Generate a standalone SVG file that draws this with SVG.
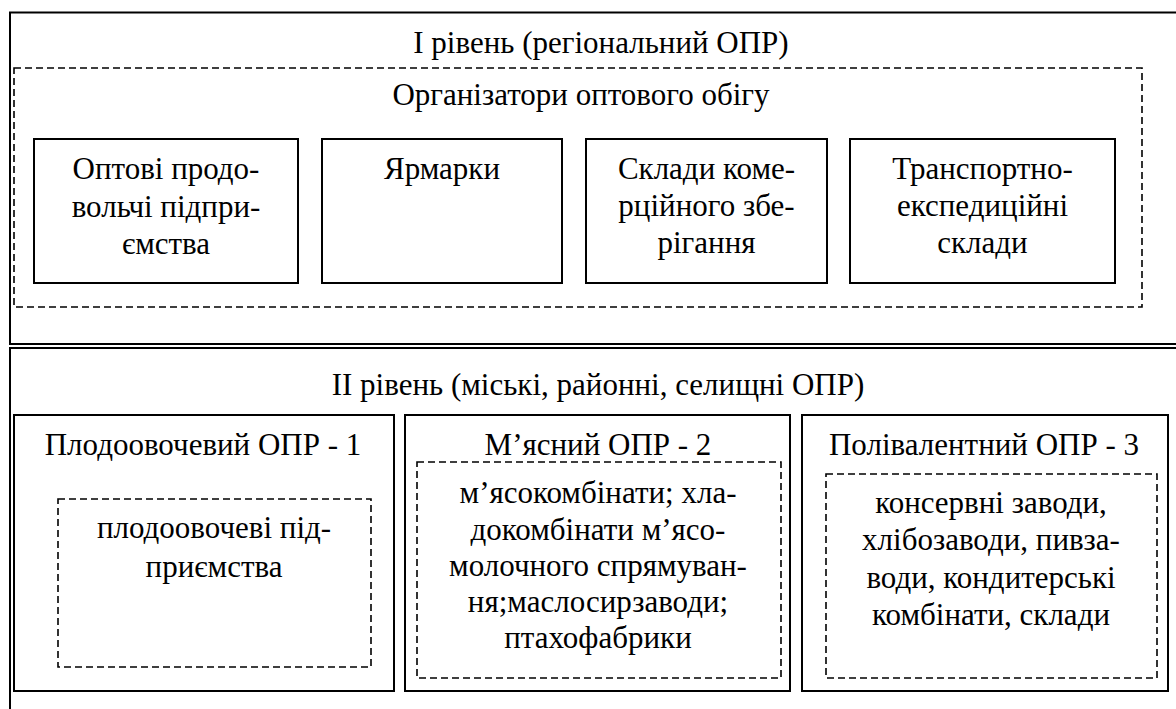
<svg xmlns="http://www.w3.org/2000/svg" width="1176" height="709" viewBox="0 0 1176 709">
<rect width="1176" height="709" fill="#fff"/>
<g id="level1">
<rect x="10" y="12.5" width="1190" height="331.5" fill="none" stroke="#000" stroke-width="2"/>
<text x="601" y="53" font-family="Liberation Serif, serif" font-size="31" text-anchor="middle">І рівень (регіональний ОПР)</text>
</g>
<g id="organizers">
<rect x="14" y="68" width="1128" height="239" fill="none" stroke="#000" stroke-width="1.6" stroke-dasharray="7 4"/>
<text x="581" y="105" font-family="Liberation Serif, serif" font-size="31" text-anchor="middle">Організатори оптового обігу</text>
</g>
<g id="n1">
<rect x="34" y="139" width="264" height="144" fill="none" stroke="#000" stroke-width="2"/>
<text x="166" y="179" font-family="Liberation Serif, serif" font-size="31" text-anchor="middle">Оптові продо-</text>
<text x="166" y="217" font-family="Liberation Serif, serif" font-size="31" text-anchor="middle">вольчі підпри-</text>
<text x="166" y="254" font-family="Liberation Serif, serif" font-size="31" text-anchor="middle">ємства</text>
</g>
<g id="n2">
<rect x="322" y="139" width="240" height="144" fill="none" stroke="#000" stroke-width="2"/>
<text x="442" y="179" font-family="Liberation Serif, serif" font-size="31" text-anchor="middle">Ярмарки</text>
</g>
<g id="n3">
<rect x="586" y="139" width="241" height="144" fill="none" stroke="#000" stroke-width="2"/>
<text x="706.5" y="179" font-family="Liberation Serif, serif" font-size="31" text-anchor="middle">Склади коме-</text>
<text x="706.5" y="216" font-family="Liberation Serif, serif" font-size="31" text-anchor="middle">рційного збе-</text>
<text x="706.5" y="253" font-family="Liberation Serif, serif" font-size="31" text-anchor="middle">рігання</text>
</g>
<g id="n4">
<rect x="850" y="139" width="265" height="144" fill="none" stroke="#000" stroke-width="2"/>
<text x="982.5" y="179" font-family="Liberation Serif, serif" font-size="31" text-anchor="middle">Транспортно-</text>
<text x="982.5" y="216" font-family="Liberation Serif, serif" font-size="31" text-anchor="middle">експедиційні</text>
<text x="982.5" y="253" font-family="Liberation Serif, serif" font-size="31" text-anchor="middle">склади</text>
</g>
<g id="level2">
<rect x="10" y="348" width="1190" height="380" fill="none" stroke="#000" stroke-width="2"/>
<text x="598" y="395" font-family="Liberation Serif, serif" font-size="31" text-anchor="middle">ІІ рівень (міські, районні, селищні ОПР)</text>
</g>
<g id="opr1">
<rect x="14" y="415" width="380" height="276" fill="none" stroke="#000" stroke-width="2"/>
<text x="203" y="455" font-family="Liberation Serif, serif" font-size="31" text-anchor="middle">Плодоовочевий ОПР - 1</text>
<rect x="58" y="499" width="313" height="168" fill="none" stroke="#000" stroke-width="1.6" stroke-dasharray="7 4"/>
<text x="214" y="538" font-family="Liberation Serif, serif" font-size="31" text-anchor="middle">плодоовочеві під-</text>
<text x="214" y="577" font-family="Liberation Serif, serif" font-size="31" text-anchor="middle">приємства</text>
</g>
<g id="opr2">
<rect x="405" y="415" width="385" height="276" fill="none" stroke="#000" stroke-width="2"/>
<text x="598" y="455" font-family="Liberation Serif, serif" font-size="31" text-anchor="middle">М’ясний ОПР - 2</text>
<rect x="417" y="462" width="364" height="216" fill="none" stroke="#000" stroke-width="1.6" stroke-dasharray="7 4"/>
<text x="598" y="503" font-family="Liberation Serif, serif" font-size="31" text-anchor="middle">м’ясокомбінати; хла-</text>
<text x="598" y="540" font-family="Liberation Serif, serif" font-size="31" text-anchor="middle">докомбінати м’ясо-</text>
<text x="598" y="576" font-family="Liberation Serif, serif" font-size="31" text-anchor="middle">молочного спрямуван-</text>
<text x="598" y="612" font-family="Liberation Serif, serif" font-size="31" text-anchor="middle">ня;маслосирзаводи;</text>
<text x="598" y="648" font-family="Liberation Serif, serif" font-size="31" text-anchor="middle">птахофабрики</text>
</g>
<g id="opr3">
<rect x="802" y="415" width="366" height="276" fill="none" stroke="#000" stroke-width="2"/>
<text x="984" y="455" font-family="Liberation Serif, serif" font-size="31" text-anchor="middle">Полівалентний ОПР - 3</text>
<rect x="826" y="474" width="331" height="204" fill="none" stroke="#000" stroke-width="1.6" stroke-dasharray="7 4"/>
<text x="991" y="513" font-family="Liberation Serif, serif" font-size="31" text-anchor="middle">консервні заводи,</text>
<text x="991" y="550" font-family="Liberation Serif, serif" font-size="31" text-anchor="middle">хлібозаводи, пивза-</text>
<text x="991" y="588" font-family="Liberation Serif, serif" font-size="31" text-anchor="middle">води, кондитерські</text>
<text x="991" y="625" font-family="Liberation Serif, serif" font-size="31" text-anchor="middle">комбінати, склади</text>
</g>
<g id="connectors"></g>
</svg>
